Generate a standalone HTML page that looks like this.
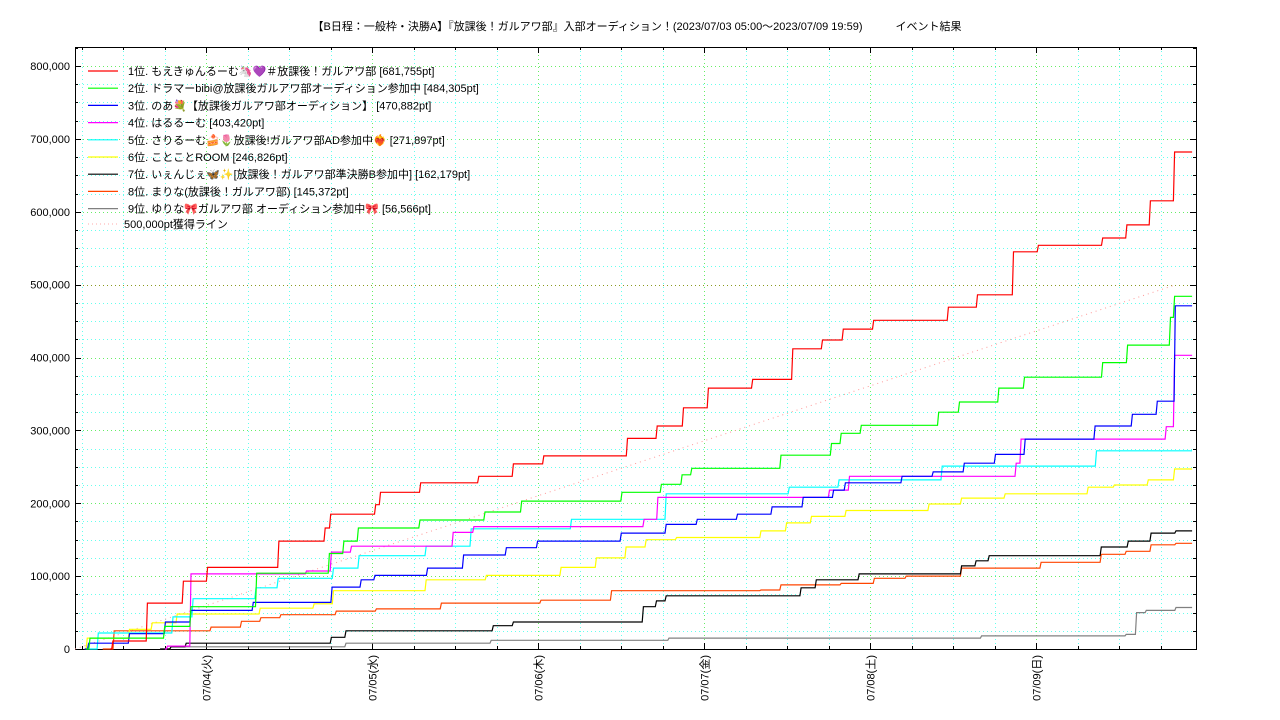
<!DOCTYPE html>
<html><head><meta charset="utf-8">
<style>
html,body{margin:0;padding:0;background:#fff;}
svg{display:block;font-family:"Liberation Sans","Noto Sans CJK JP",sans-serif;}
</style></head>
<body>
<svg id="chart" width="1280" height="720" viewBox="0 0 1280 720" xmlns="http://www.w3.org/2000/svg">
<rect x="0" y="0" width="1280" height="720" fill="#fff"/>
<text x="637" y="30" font-size="11" text-anchor="middle" fill="#000">【B日程：一般枠・決勝A】『放課後！ガルアワ部』入部オーディション！(2023/07/03 05:00～2023/07/09 19:59)　　　イベント結果</text>
<g id="grid"></g>
<g id="axes"></g>
<g id="series"></g>
<g id="legend"></g>
</svg>
<script>
// hours since 07/03 05:00, value in thousands of pt
const seriesNames = ["1位. もえきゅんるーむ🦄💜＃放課後！ガルアワ部 [681,755pt]","2位. ドラマーbibi@放課後ガルアワ部オーディション参加中 [484,305pt]","3位. のあ💐【放課後ガルアワ部オーディション】 [470,882pt]","4位. はるるーむ [403,420pt]","5位. さりるーむ🍰🌷放課後!ガルアワ部AD参加中❤️‍🔥 [271,897pt]","6位. ことことROOM [246,826pt]","7位. いぇんじぇ🦋✨[放課後！ガルアワ部準決勝B参加中] [162,179pt]","8位. まりな(放課後！ガルアワ部) [145,372pt]","9位. ゆりな🎀ガルアワ部 オーディション参加中🎀 [56,566pt]"];
const seriesColors = ["#ff0000","#00ff00","#0000ff","#ff00ff","#00ffff","#ffff00","#000000","#ff4500","#808080"];
const red = [[5.1,0],[5.3,11],[10.3,63],[15.5,93],[19.0,112],[29.3,148],[36.0,166],[36.8,185],[43.3,198],[44.0,215],[49.8,228],[58.2,237],[63.2,254],[67.6,265],[79.7,289],[84.0,306],[87.8,331],[91.4,358],[97.8,370],[103.6,412],[107.9,424],[110.9,439],[115.3,451],[126.1,469],[130.3,486],[135.5,545],[139.1,554],[148.4,564],[151.9,582],[155.3,615],[158.8,682]];
const green = [[1.6,0],[2.0,15],[12.8,31],[16.6,58],[26.1,104],[36.6,131],[38.7,148],[40.8,166],[49.7,177],[59.1,188],[64.4,203],[78.9,215],[84.6,226],[87.6,239],[89.0,248],[101.9,266],[109.2,282],[110.6,296],[113.5,307],[124.7,325],[127.7,339],[133.4,358],[137.1,373],[148.4,393],[152.0,417],[158.2,455],[158.8,484]];
const blue = [[1.4,0],[1.8,8],[7.7,21],[12.9,37],[16.6,53],[25.6,64],[37.0,85],[41.2,95],[43.2,101],[50.8,111],[56.0,129],[62.2,139],[66.7,148],[78.8,159],[85.3,171],[89.8,178],[95.6,185],[100.6,195],[105.1,208],[109.5,218],[111.2,228],[119.4,237],[123.9,243],[128.4,255],[132.9,267],[137.2,288],[147.3,306],[152.7,322],[156.3,340],[158.9,471]];
const magenta = [[13.0,0],[13.2,4],[16.6,103],[33.3,107],[36.9,133],[39.8,141],[54.5,160],[57.5,168],[82.1,178],[84.1,208],[108.9,218],[111.8,237],[135.9,255],[136.6,288],[157.6,305],[158.8,403]];
const cyan = [[1.7,0],[3.2,22],[14.0,44],[16.9,69],[26.0,84],[29.2,97],[37.2,111],[40.9,128],[50.6,141],[57.1,165],[71.6,178],[85.3,213],[103.1,222],[110.3,232],[125.2,251],[147.5,272]];
const yellow = [[1.4,0],[1.6,15],[7.7,27],[11.0,36],[14.6,48],[26.6,56],[34.4,62],[37.2,80],[50.6,95],[59.3,101],[70.1,112],[75.2,125],[79.5,140],[82.4,150],[86.8,153],[99.0,162],[102.7,173],[106.3,182],[111.3,190],[123.3,199],[128.0,207],[134.3,213],[146.3,222],[150.1,225],[155.0,232],[158.8,247]];
const black = [[12.3,0],[13.7,3],[15.9,8],[36.9,16],[39.0,25],[60.3,32],[63.2,37],[82.0,58],[83.9,66],[85.3,73],[104.8,84],[107.0,95],[113.2,103],[128.0,114],[130.1,121],[132.0,128],[148.2,140],[152.1,148],[155.4,159],[159.0,162]];
const orange = [[4.0,0],[5.5,25],[19.5,30],[23.9,38],[26.7,43],[29.6,47],[37.6,52],[43.4,55],[52.8,63],[67.2,67],[77.4,80],[99.0,81],[101.9,88],[110.6,90],[115.4,97],[120.0,100],[128.0,111],[139.5,119],[148.2,130],[151.8,134],[155.4,143],[159.0,145]];
const gray = [[12.3,0],[13.7,3],[39.0,8],[60.0,12],[85.7,15],[130.9,18],[151.8,20],[153.3,50],[154.7,53],[159.0,57]];
const allSeries = [red,green,blue,magenta,cyan,yellow,black,orange,gray];
const yTickLabels = ["0","100,000","200,000","300,000","400,000","500,000","600,000","700,000","800,000"];
const yTickValues = [0,100,200,300,400,500,600,700,800];
const xTickLabels = ["07/04(火)","07/05(水)","07/06(木)","07/07(金)","07/08(土)","07/09(日)"];
const xTickHours = [19,43,67,91,115,139];
const endHour = 161.5;
const lineStartHour = 0, lineEndHour = 159.2, lineTarget = 500;

const NS = "http://www.w3.org/2000/svg";
const X0 = 75, X1 = 1196, Y0 = 649, YTOP = 47;
const xs = h => X0 + h * 6.917;
const ys = v => Y0 - v * 0.72875;
const px = v => Math.round(v) + 0.5;
function mk(tag, attrs, parent){const e=document.createElementNS(NS,tag);for(const k in attrs)e.setAttribute(k,attrs[k]);parent.appendChild(e);return e;}
const grid=document.getElementById('grid'), axes=document.getElementById('axes'), ser=document.getElementById('series'), leg=document.getElementById('legend');

for(let v=25; v<=800; v+=25){
  const major = v%100===0;
  const col = v===500 ? "#8a9a20" : (major ? "#66ee66" : "#66ffee");
  const y=px(ys(v));
  const l=mk('line',{x1:X0,x2:X1,y1:y,y2:y,stroke:col,'stroke-width':1,'stroke-dasharray':'1,3'},grid);
  
  
}
for(let h=1; h<162; h+=6){
  const x=px(xs(h));
  const l=mk('line',{x1:x,x2:x,y1:YTOP,y2:Y0,stroke:(h-19)%24===0?"#66ee66":"#66ffee",'stroke-width':1,'stroke-dasharray':'1,3'},grid);
  
  
}
const fr=mk('rect',{x:X0+0.5,y:YTOP+0.5,width:X1-X0,height:Y0-YTOP,fill:'none',stroke:'#000','stroke-width':1},axes);


for(let v=0; v<=825; v+=25){
  const y=px(ys(v)); if(y<YTOP) continue;
  const len = v%100===0?6:3;
  mk('line',{x1:X0,x2:X0+len,y1:y,y2:y,stroke:'#000'},axes);
  mk('line',{x1:X1-len,x2:X1,y1:y,y2:y,stroke:'#000'},axes);
}
yTickValues.forEach((v,i)=>{
  const t=mk('text',{x:70,y:ys(v)+4,'font-size':11,'text-anchor':'end',fill:'#000'},axes);
  t.textContent=yTickLabels[i];
  
  
});
for(let h=1; h<162; h+=6){
  const len=(h-19)%24===0?6:3;
  const x=px(xs(h));
  mk('line',{x1:x,x2:x,y1:Y0,y2:Y0-len,stroke:'#000'},axes);
  mk('line',{x1:x,x2:x,y1:YTOP,y2:YTOP+len,stroke:'#000'},axes);
}
xTickLabels.forEach((lab,i)=>{
  const x=xs(xTickHours[i])+4, y=655;
  const t=mk('text',{x:x,y:y,'font-size':11,'text-anchor':'end',transform:`rotate(-90 ${x} ${y})`,fill:'#000'},axes);
  t.textContent=lab;
  
  
});
const tl=mk('line',{x1:xs(lineStartHour),y1:ys(0),x2:xs(lineEndHour),y2:ys(lineTarget),stroke:'#ff9999','stroke-width':1,'stroke-dasharray':'1,4'},ser);


for(let i=allSeries.length-1;i>=0;i--){
  const d=allSeries[i];
  let p=`M${xs(d[0][0]).toFixed(1)},${ys(d[0][1]).toFixed(1)}`;
  for(let j=1;j<d.length;j++){
    p+=` H${xs(d[j][0]).toFixed(1)} L${(xs(d[j][0])+1.2).toFixed(1)},${ys(d[j][1]).toFixed(1)}`;
  }
  p+=` H${xs(endHour).toFixed(1)}`;
  const path=mk('path',{d:p,fill:'none',stroke:seriesColors[i],'stroke-width':1.2},ser);
  
  
}
seriesNames.forEach((n,i)=>{
  const y=71+i*17.2;
  const g=mk('g',{},leg);
  
  
  mk('line',{x1:88,x2:118,y1:y,y2:y,stroke:seriesColors[i],'stroke-width':1.2},g);
  const t=mk('text',{x:128,y:y+4,'font-size':11,fill:'#000'},g);
  t.textContent=n;
});
const g2=mk('g',{},leg);


mk('line',{x1:88,x2:118,y1:224,y2:224,stroke:'#ffaaaa','stroke-dasharray':'1,3'},g2);
const t2=mk('text',{x:124,y:228,'font-size':11,fill:'#000'},g2);
t2.textContent="500,000pt獲得ライン";
</script>
</body></html>
